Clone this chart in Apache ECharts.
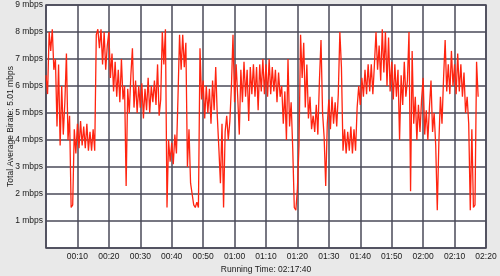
<!DOCTYPE html>
<html>
<head>
<meta charset="utf-8">
<script src="https://cdn.jsdelivr.net/npm/echarts@6/dist/echarts.min.js"></script>
<style>
  html, body { margin: 0; padding: 0; background: #e9e9e9; }
  #chart { width: 500px; height: 276px; }
</style>
</head>
<body>
<div id="chart"></div>
<script>
// Sample step in minutes of running time
var stepMinutes = 0.5;

// Bitrate samples (mbps), one every 0.5 minute from 00:00 to 02:17:30
var bitrate = [
  6.4, 5.7, 8.0, 7.3, 8.1, 6.6, 7.0, 4.5, 6.8, 3.8,
  6.0, 4.2, 5.4, 7.2, 4.0, 4.9, 1.5, 1.6, 4.4, 3.5,
  4.6, 3.7, 4.7, 3.8, 4.5, 3.7, 4.6, 3.6, 4.3, 3.6,
  4.4, 3.6, 7.9, 8.1, 7.4, 8.1, 6.8, 8.0, 6.6, 7.5,
  8.0, 6.3, 7.2, 5.8, 6.9, 5.6, 6.6, 5.4, 7.0, 5.5,
  6.0, 2.3, 5.9, 5.0, 6.4, 7.4, 5.2, 6.2, 5.0, 6.0,
  5.2, 6.1, 4.8, 5.9, 5.1, 6.3, 5.0, 6.0, 5.4, 6.2,
  5.3, 6.8, 4.9, 5.5, 8.0, 6.8, 8.1, 1.5, 4.0, 3.2,
  3.9, 3.1, 4.2, 3.5, 5.6, 7.9, 6.6, 7.9, 6.7, 7.6,
  3.0, 4.4, 2.4, 2.0, 1.6, 1.5, 1.7, 1.5, 7.4, 5.5,
  6.2, 4.8, 6.0, 5.0, 5.9, 4.6, 6.2, 5.1, 6.7, 4.9,
  3.7, 2.4, 4.6, 1.5, 4.3, 4.9, 4.0, 4.7, 6.0, 7.9,
  5.4, 6.8, 5.6, 4.2, 6.6, 5.4, 6.9, 5.6, 6.6, 4.7,
  6.7, 5.7, 6.8, 5.6, 6.7, 5.1, 6.8, 5.8, 7.0, 5.7,
  6.8, 5.6, 7.0, 5.7, 6.7, 5.8, 6.6, 5.4, 6.5, 5.6,
  6.0, 4.6, 5.8, 4.0, 7.0, 4.5, 5.4, 3.7, 1.5, 1.4,
  2.2, 3.8, 7.9, 6.3, 7.6, 5.2, 6.8, 4.8, 5.6, 4.4,
  4.9, 4.3, 5.3, 4.2, 6.2, 7.7, 5.0, 4.1, 2.3, 4.6,
  5.5, 4.4, 5.6, 4.6, 5.4, 4.5, 5.7, 8.0, 6.7, 3.6,
  4.4, 3.5, 4.3, 3.6, 4.5, 3.5, 4.4, 3.6, 5.2, 6.0,
  5.3, 6.3, 5.6, 6.6, 5.7, 6.8, 5.8, 6.8, 5.7, 6.8,
  8.0, 6.6, 7.5, 6.2, 8.1, 6.5, 8.0, 6.0, 7.8, 5.8,
  6.9, 5.5, 6.8, 5.6, 6.6, 4.0, 6.4, 5.3, 6.9, 5.6,
  6.2, 8.0, 2.1, 7.3, 4.6, 5.6, 4.0, 5.3, 4.3, 5.5,
  6.3, 4.2, 5.1, 4.0, 5.2, 6.2, 4.3, 5.0, 3.8, 1.4,
  3.9, 5.6, 4.6, 6.3, 7.7, 5.8, 6.8, 5.7, 7.3, 6.0,
  6.8, 5.7, 7.2, 5.8, 6.8, 5.6, 6.5, 5.0, 5.6, 4.6,
  1.4, 4.4, 1.5, 1.6, 6.9, 5.6
];

// Tick labels
var xTickLabels = ['', '00:10', '00:20', '00:30', '00:40', '00:50', '01:00', '01:10',
                   '01:20', '01:30', '01:40', '01:50', '02:00', '02:10', '02:20'];
var yTickLabels = ['', '1 mbps', '2 mbps', '3 mbps', '4 mbps', '5 mbps', '6 mbps',
                   '7 mbps', '8 mbps', '9 mbps'];

var xAxisTitle = 'Running Time: 02:17:40';
var yAxisTitle = 'Total Average Birate: 5.01 mbps';

var seriesData = bitrate.map(function (v, i) { return [i * stepMinutes, v]; });

var chart = echarts.init(document.getElementById('chart'), null, { renderer: 'canvas' });
var gridColor = '#4a4a58';
var font = 'Liberation Sans, Arial, sans-serif';
chart.setOption({
  animation: false,
  backgroundColor: '#e9e9e9',
  grid: {
    left: 46, right: 14, top: 5, bottom: 28,
    containLabel: false, outerBoundsMode: 'none',
    show: true, backgroundColor: '#ffffff',
    borderColor: gridColor, borderWidth: 1.5
  },
  xAxis: {
    type: 'value', min: 0, max: 140, interval: 10,
    name: xAxisTitle, nameLocation: 'middle', nameGap: 17, nameMoveOverlap: false,
    nameTextStyle: { fontSize: 8.5, color: '#1a1a1a', fontFamily: font },
    axisLine: { show: false }, axisTick: { show: false },
    axisLabel: {
      margin: 4, fontSize: 8.5, color: '#1a1a1a', fontFamily: font,
      formatter: function (v) { return xTickLabels[Math.round(v / 10)] || ''; }
    },
    splitLine: { show: true, lineStyle: { color: gridColor, width: 1.5 } }
  },
  yAxis: {
    type: 'value', min: 0, max: 9, interval: 1,
    name: yAxisTitle, nameLocation: 'middle', nameGap: 31, nameRotate: 90, nameMoveOverlap: false,
    nameTextStyle: { fontSize: 8.5, color: '#1a1a1a', fontFamily: font },
    axisLine: { show: false }, axisTick: { show: false },
    axisLabel: {
      margin: 3, fontSize: 8.5, color: '#1a1a1a', fontFamily: font,
      formatter: function (v) { return yTickLabels[Math.round(v)] || ''; }
    },
    splitLine: { show: true, lineStyle: { color: gridColor, width: 1.5 } }
  },
  series: [{
    type: 'line', data: seriesData, showSymbol: false, symbol: 'none',
    lineStyle: { color: '#ff2410', width: 1.3 },
    z: 3
  }]
});
</script>
</body>
</html>
